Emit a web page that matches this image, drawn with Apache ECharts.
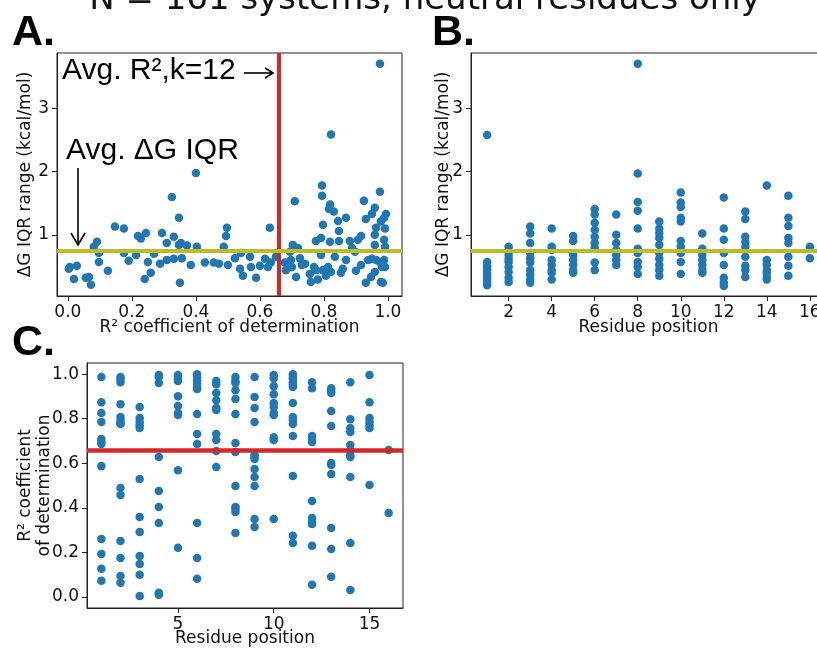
<!DOCTYPE html>
<html>
<head>
<meta charset="utf-8">
<script src="https://cdn.jsdelivr.net/npm/echarts@6/dist/echarts.min.js"></script>
<style>
  html, body { margin: 0; padding: 0; background: #fff; }
  #chart { width: 817px; height: 650px; }
</style>
</head>
<body>
<div id="chart"></div>
<script>
// Panel A: R² coefficient of determination vs. ΔG IQR range, one point per system
const aR2 = [
  0.325, 0.347, 0.147, 0.175, 0.219, 0.244, 0.228, 0.294, 0.331, 0.309, 0.353, 0.347, 0.372, 0.403,
  0.091, 0.081, 0.097, 0.097, 0.175, 0.190, 0.213, 0.250, 0.269, 0.288, 0.309, 0.331, 0.356, 0.384,
  0.428, 0.456, 0.472, 0.497, 0.494, 0.487, 0.500, 0.006, 0.003, 0.028, 0.019, 0.056, 0.066, 0.072,
  0.125, 0.240, 0.259, 0.350, 0.400,
  0.794, 0.794, 0.709, 0.975, 0.925, 0.819, 0.816, 0.831, 0.959, 0.950, 0.994, 0.988, 0.978, 0.931,
  0.869, 0.844, 0.797, 0.631, 0.847, 0.963, 0.991, 0.791, 0.775, 0.819, 0.847, 0.881, 0.916, 0.906,
  0.959, 0.988, 0.959, 0.991, 0.703, 0.719, 0.694, 0.888, 0.897, 0.522, 0.541, 0.569, 0.538, 0.547,
  0.572, 0.588, 0.600, 0.616, 0.625, 0.634, 0.650, 0.678, 0.681, 0.697, 0.700, 0.713, 0.725, 0.731,
  0.741, 0.756, 0.759, 0.769, 0.775, 0.781, 0.791, 0.797, 0.806, 0.813, 0.822, 0.834, 0.853, 0.859,
  0.869, 0.900, 0.916, 0.931, 0.938, 0.950, 0.959, 0.963, 0.975, 0.981, 0.978, 0.988, 0.991, 0.984,
  0.947, 0.822, 0.975
];
const aIqr = [
  1.60, 1.27, 1.13, 1.10, 0.98, 1.03, 0.94, 1.03, 0.97, 0.87, 0.87, 0.84, 0.83, 0.81,
  0.89, 0.81, 0.71, 0.57, 0.71, 0.59, 0.68, 0.57, 0.70, 0.54, 0.60, 0.62, 0.63, 0.52,
  0.56, 0.56, 0.54, 1.11, 0.98, 0.81, 0.52, 0.49, 0.46, 0.51, 0.30, 0.32, 0.33, 0.21,
  0.43, 0.30, 0.40, 0.24, 1.98,
  1.78, 1.62, 1.53, 1.68, 1.54, 1.48, 1.41, 1.37, 1.43, 1.33, 1.33, 1.27, 1.21, 1.25,
  1.27, 1.22, 1.16, 1.11, 1.06, 1.11, 1.10, 0.95, 0.90, 0.89, 0.90, 0.90, 0.98, 0.92,
  1.00, 0.92, 0.84, 0.81, 0.84, 0.79, 0.73, 0.79, 0.73, 0.63, 0.71, 0.65, 0.46, 0.35,
  0.49, 0.32, 0.51, 0.62, 0.49, 0.56, 0.65, 0.56, 0.44, 0.60, 0.49, 0.33, 0.63, 0.52,
  0.54, 0.38, 0.25, 0.49, 0.44, 0.29, 0.68, 0.44, 0.35, 0.49, 0.41, 0.65, 0.40, 0.46,
  0.60, 0.43, 0.52, 0.24, 0.60, 0.62, 0.41, 0.60, 0.57, 0.49, 0.25, 0.60, 0.49, 0.24,
  0.33, 2.59, 3.71
];

// Panel B: ΔG IQR range grouped by residue position (index 0 = position 1)
const bIqrByPosition = [
  [2.58, 0.57, 0.50, 0.45, 0.40, 0.35, 0.30, 0.25, 0.20],
  [0.81, 0.74, 0.68, 0.62, 0.57, 0.49, 0.41, 0.32, 0.25],
  [1.13, 1.02, 0.87, 0.71, 0.63, 0.56, 0.44, 0.37, 0.29, 0.24],
  [1.10, 0.81, 0.76, 0.60, 0.52, 0.44, 0.40, 0.29],
  [0.98, 0.90, 0.68, 0.60, 0.52, 0.44, 0.40],
  [1.41, 1.32, 1.19, 1.08, 0.97, 0.87, 0.79, 0.56, 0.44],
  [1.32, 1.00, 0.87, 0.76, 0.68, 0.60, 0.52],
  [3.71, 1.97, 1.52, 1.38, 1.10, 0.78, 0.71, 0.57, 0.49, 0.38],
  [1.21, 1.10, 1.03, 0.95, 0.84, 0.71, 0.62, 0.52, 0.44, 0.35],
  [1.67, 1.51, 1.44, 1.27, 1.21, 0.90, 0.81, 0.71, 0.57, 0.38],
  [1.02, 0.78, 0.68, 0.60, 0.52, 0.44, 0.40],
  [1.59, 1.10, 0.92, 0.71, 0.52, 0.32, 0.24, 0.19],
  [1.37, 1.25, 0.97, 0.89, 0.81, 0.65, 0.51, 0.44, 0.33],
  [1.78, 0.60, 0.52, 0.44, 0.40, 0.33, 0.29],
  [1.62, 1.27, 1.14, 0.95, 0.87, 0.65, 0.51, 0.35],
  [0.81, 0.63]
];

// Panel C: R² coefficient of determination grouped by residue position
const cR2ByPosition = [
  [0.987, 0.874, 0.825, 0.785, 0.709, 0.695, 0.686, 0.587, 0.260, 0.193, 0.126, 0.072],
  [0.987, 0.978, 0.964, 0.865, 0.807, 0.794, 0.780, 0.776, 0.489, 0.457, 0.251, 0.175, 0.094, 0.063],
  [0.852, 0.803, 0.785, 0.771, 0.758, 0.529, 0.359, 0.291, 0.184, 0.148, 0.099, 0.004],
  [0.996, 0.987, 0.960, 0.628, 0.475, 0.404, 0.332, 0.018, 0.009],
  [0.996, 0.982, 0.969, 0.901, 0.857, 0.825, 0.816, 0.569, 0.220],
  [1.000, 0.987, 0.973, 0.960, 0.942, 0.933, 0.821, 0.731, 0.686, 0.332, 0.175, 0.081],
  [0.969, 0.955, 0.915, 0.883, 0.848, 0.839, 0.731, 0.704, 0.655, 0.583],
  [0.987, 0.969, 0.960, 0.928, 0.888, 0.821, 0.691, 0.650, 0.498, 0.404, 0.395, 0.381, 0.287],
  [0.987, 0.897, 0.848, 0.785, 0.637, 0.628, 0.619, 0.574, 0.538, 0.498, 0.350, 0.314],
  [0.996, 0.982, 0.946, 0.910, 0.870, 0.852, 0.825, 0.816, 0.717, 0.704, 0.350],
  [1.000, 0.987, 0.978, 0.964, 0.955, 0.942, 0.870, 0.807, 0.794, 0.776, 0.722, 0.543, 0.274, 0.242],
  [0.964, 0.937, 0.722, 0.709, 0.695, 0.430, 0.354, 0.336, 0.327, 0.229, 0.054],
  [0.937, 0.924, 0.915, 0.834, 0.767, 0.601, 0.592, 0.552, 0.309, 0.215, 0.090],
  [0.964, 0.798, 0.758, 0.740, 0.682, 0.659, 0.637, 0.628, 0.538, 0.242, 0.031],
  [0.996, 0.874, 0.803, 0.785, 0.771, 0.758, 0.502],
  [0.659, 0.377]
];

// Reference averages drawn as guide lines
const AVG_R2 = 0.656;   // average R², k = 12
const AVG_IQR = 0.746;  // average ΔG IQR range (kcal/mol)

// Tick labels
const iqrTicks = [1, 2, 3];
const r2TicksA = [0, 0.2, 0.4, 0.6, 0.8, 1.0];
const posTicksB = [2, 4, 6, 8, 10, 12, 14, 16];
const posTicksC = [5, 10, 15];
const r2TicksC = [0, 0.2, 0.4, 0.6, 0.8, 1.0];

const TITLE = 'N = 161 systems, neutral residues only';

// ---- build series data ----
const dataA = aR2.map((r, i) => [r, aIqr[i]]);
const dataB = [];
bIqrByPosition.forEach((vals, i) => vals.forEach(v => dataB.push([i + 1, v])));
const dataC = [];
cR2ByPosition.forEach((vals, i) => vals.forEach(v => dataC.push([i + 1, v])));

const DOT = '#1f77b4';
const RED = '#d62728';
const OLIVE = '#bcbd22';
const TXT = '#111';
const SANS = 'DejaVu Sans';
const ARIAL = 'Liberation Sans';

function axisBase(ticks, fmt) {
  return {
    axisLine: { show: true, onZero: false, lineStyle: { color: '#222', width: 1 } },
    axisTick: { show: true, length: 5, lineStyle: { color: '#222', width: 1 }, customValues: ticks },
    axisLabel: { show: true, color: TXT, fontSize: 17, fontFamily: SANS, margin: 8,
                 customValues: ticks, formatter: fmt },
    splitLine: { show: false },
    nameMoveOverlap: false,
    nameTextStyle: { color: TXT, fontSize: 17, fontFamily: SANS }
  };
}
const fmt1 = v => Number(v).toFixed(1);
const fmt0 = v => String(Math.round(v));

// boxed axes; keep each grid exactly where it is placed
const gridStyle = {
  show: true, borderColor: '#222', borderWidth: 1, backgroundColor: 'rgba(0,0,0,0)',
  containLabel: false, outerBoundsMode: 'none'
};

const chart = echarts.init(document.getElementById('chart'), null, { renderer: 'canvas' });

const option = {
  backgroundColor: '#fff',
  animation: false,
  grid: [
    Object.assign({ left: 57, top: 53, width: 345, height: 243 }, gridStyle),
    Object.assign({ left: 471, top: 53, width: 355, height: 243 }, gridStyle),
    Object.assign({ left: 87, top: 363, width: 316, height: 245 }, gridStyle)
  ],
  xAxis: [
    Object.assign(axisBase(r2TicksA, fmt1), {
      gridIndex: 0, type: 'value', min: -0.034, max: 1.044,
      name: 'R² coefficient of determination', nameLocation: 'middle', nameGap: 23
    }),
    Object.assign(axisBase(posTicksB, fmt0), {
      gridIndex: 1, type: 'value', min: 0.25, max: 16.75,
      name: 'Residue position', nameLocation: 'middle', nameGap: 23
    }),
    Object.assign(axisBase(posTicksC, fmt0), {
      gridIndex: 2, type: 'value', min: 0.25, max: 16.75,
      name: 'Residue position', nameLocation: 'middle', nameGap: 22
    })
  ],
  yAxis: [
    Object.assign(axisBase(iqrTicks, fmt0), {
      gridIndex: 0, type: 'value', min: 0.03, max: 3.88,
      name: 'ΔG IQR range (kcal/mol)', nameLocation: 'middle', nameGap: 23
    }),
    Object.assign(axisBase(iqrTicks, fmt0), {
      gridIndex: 1, type: 'value', min: 0.03, max: 3.88,
      name: 'ΔG IQR range (kcal/mol)', nameLocation: 'middle', nameGap: 19
    }),
    Object.assign(axisBase(r2TicksC, fmt1), {
      gridIndex: 2, type: 'value', min: -0.05, max: 1.05,
      name: 'R² coefficient\nof determination', nameLocation: 'middle', nameGap: 33,
      nameTextStyle: { color: TXT, fontSize: 17, fontFamily: SANS, lineHeight: 19 }
    })
  ],
  series: [
    {
      type: 'scatter', xAxisIndex: 0, yAxisIndex: 0, data: dataA,
      symbolSize: 8.5, itemStyle: { color: DOT, opacity: 1 }, silent: true,
      markLine: {
        silent: true, symbol: 'none', animation: false, label: { show: false },
        data: [
          { xAxis: AVG_R2, lineStyle: { color: RED, width: 4, type: 'solid' } },
          { yAxis: AVG_IQR, lineStyle: { color: OLIVE, width: 4, type: 'solid' } }
        ]
      }
    },
    {
      type: 'scatter', xAxisIndex: 1, yAxisIndex: 1, data: dataB,
      symbolSize: 8.5, itemStyle: { color: DOT, opacity: 1 }, silent: true,
      markLine: {
        silent: true, symbol: 'none', animation: false, label: { show: false },
        data: [ { yAxis: AVG_IQR, lineStyle: { color: OLIVE, width: 4, type: 'solid' } } ]
      }
    },
    {
      type: 'scatter', xAxisIndex: 2, yAxisIndex: 2, data: dataC,
      symbolSize: 8.5, itemStyle: { color: DOT, opacity: 1 }, silent: true,
      markLine: {
        silent: true, symbol: 'none', animation: false, label: { show: false },
        data: [ { yAxis: AVG_R2, lineStyle: { color: RED, width: 4.5, type: 'solid' } } ]
      }
    }
  ],
  graphic: [
    // figure title (runs off the top edge)
    { type: 'text', x: 425, y: -17, style: { text: TITLE, fontSize: 34, fontFamily: SANS, fill: TXT, align: 'center' } },
    // panel letters
    { type: 'text', x: 12, y: 12, style: { text: 'A.', fontSize: 43, fontWeight: 'bold', fontFamily: ARIAL, fill: '#000' } },
    { type: 'text', x: 432, y: 12, style: { text: 'B.', fontSize: 43, fontWeight: 'bold', fontFamily: ARIAL, fill: '#000' } },
    { type: 'text', x: 12, y: 322, style: { text: 'C.', fontSize: 43, fontWeight: 'bold', fontFamily: ARIAL, fill: '#000' } },
    // annotations in panel A
    { type: 'text', x: 62, y: 56, z: 10, style: { text: 'Avg. R²,k=12', fontSize: 30, fontFamily: ARIAL, fill: '#000' } },
    { type: 'polyline', z: 10, shape: { points: [[244, 73], [273, 73]] }, style: { stroke: '#000', lineWidth: 1.6, fill: null } },
    { type: 'polyline', z: 10, shape: { points: [[265, 68], [273, 73], [265, 78]] }, style: { stroke: '#000', lineWidth: 1.6, fill: null } },
    { type: 'text', x: 66, y: 136, z: 10, style: { text: 'Avg. ΔG IQR', fontSize: 30, fontFamily: ARIAL, fill: '#000' } },
    { type: 'polyline', z: 10, shape: { points: [[78, 168], [78, 245]] }, style: { stroke: '#000', lineWidth: 1.6, fill: null } },
    { type: 'polyline', z: 10, shape: { points: [[71, 233], [78, 245], [85, 233]] }, style: { stroke: '#000', lineWidth: 1.6, fill: null } }
  ]
};

chart.setOption(option);
</script>
</body>
</html>
